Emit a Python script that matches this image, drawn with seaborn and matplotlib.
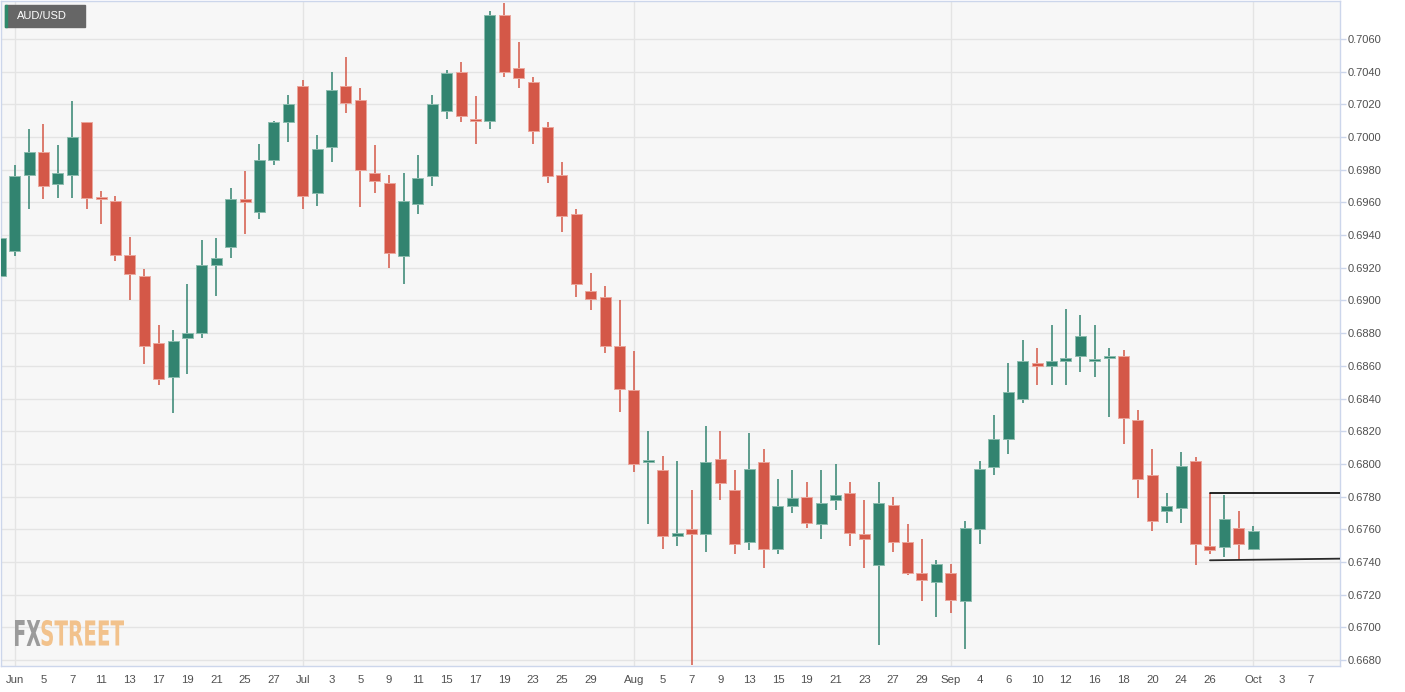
import numpy as np
import pandas as pd
import matplotlib.pyplot as plt
import seaborn as sns
from matplotlib.patches import Rectangle, PathPatch
from matplotlib.textpath import TextPath
from matplotlib.font_manager import FontProperties
from matplotlib.transforms import Affine2D

# AUD/USD daily candles, 31 May - 1 Oct 2019
opens = [0.6915, 0.6930, 0.6977, 0.6991, 0.6971, 0.6977, 0.7009, 0.6963, 0.6961, 0.6928,
         0.6915, 0.6874, 0.6853, 0.6877, 0.6880, 0.6922, 0.6933, 0.6962, 0.6954, 0.6986,
         0.7009, 0.7031, 0.6966, 0.6994, 0.7031, 0.7023, 0.6978, 0.6972, 0.6927, 0.6959,
         0.6976, 0.7016, 0.7040, 0.7011, 0.7010, 0.7075, 0.7042, 0.7034, 0.7006, 0.6977,
         0.6953, 0.6906, 0.6902, 0.6872, 0.6845, 0.6801, 0.6796, 0.6756, 0.6760, 0.6757,
         0.6803, 0.6784, 0.6752, 0.6801, 0.6748, 0.6774, 0.6780, 0.6763, 0.6778, 0.6782,
         0.6757, 0.6738, 0.6775, 0.6752, 0.6733, 0.6728, 0.6733, 0.6716, 0.6760, 0.6798,
         0.6815, 0.6840, 0.6862, 0.6860, 0.6863, 0.6866, 0.6863, 0.6865, 0.6866, 0.6827,
         0.6793, 0.6771, 0.6773, 0.6802, 0.6750, 0.6749, 0.6761, 0.6748]
highs = [0.6945, 0.6983, 0.7005, 0.7008, 0.6995, 0.7022, 0.7009, 0.6967, 0.6964, 0.6939,
         0.6919, 0.6885, 0.6882, 0.6910, 0.6937, 0.6938, 0.6969, 0.6979, 0.6996, 0.7010,
         0.7026, 0.7035, 0.7001, 0.7040, 0.7049, 0.7030, 0.6995, 0.6977, 0.6978, 0.6989,
         0.7026, 0.7041, 0.7046, 0.7025, 0.7077, 0.7082, 0.7058, 0.7037, 0.7009, 0.6985,
         0.6956, 0.6917, 0.6909, 0.6900, 0.6869, 0.6820, 0.6805, 0.6802, 0.6784, 0.6823,
         0.6820, 0.6796, 0.6819, 0.6809, 0.6791, 0.6796, 0.6789, 0.6796, 0.6800, 0.6789,
         0.6778, 0.6789, 0.6780, 0.6763, 0.6754, 0.6741, 0.6739, 0.6765, 0.6802, 0.6830,
         0.6862, 0.6876, 0.6871, 0.6885, 0.6895, 0.6891, 0.6885, 0.6871, 0.6870, 0.6833,
         0.6809, 0.6782, 0.6807, 0.6804, 0.6782, 0.6781, 0.6771, 0.6762]
lows = [0.6901, 0.6927, 0.6956, 0.6962, 0.6963, 0.6963, 0.6956, 0.6947, 0.6924, 0.6900,
        0.6861, 0.6848, 0.6831, 0.6855, 0.6877, 0.6903, 0.6926, 0.6941, 0.6950, 0.6983,
        0.6997, 0.6956, 0.6958, 0.6985, 0.7015, 0.6957, 0.6966, 0.6920, 0.6910, 0.6953,
        0.6970, 0.7011, 0.7009, 0.6996, 0.7005, 0.7037, 0.7030, 0.6996, 0.6972, 0.6942,
        0.6902, 0.6894, 0.6868, 0.6832, 0.6795, 0.6763, 0.6748, 0.6750, 0.6677, 0.6746,
        0.6778, 0.6745, 0.6747, 0.6736, 0.6745, 0.6770, 0.6761, 0.6754, 0.6772, 0.6750,
        0.6736, 0.6689, 0.6746, 0.6732, 0.6716, 0.6706, 0.6709, 0.6687, 0.6751, 0.6793,
        0.6806, 0.6837, 0.6848, 0.6848, 0.6848, 0.6856, 0.6853, 0.6829, 0.6812, 0.6779,
        0.6759, 0.6764, 0.6764, 0.6738, 0.6745, 0.6743, 0.6741, 0.6747]
closes = [0.6938, 0.6976, 0.6991, 0.6970, 0.6978, 0.7000, 0.6963, 0.6962, 0.6928, 0.6916,
          0.6872, 0.6852, 0.6875, 0.6880, 0.6922, 0.6926, 0.6962, 0.6960, 0.6986, 0.7009,
          0.7020, 0.6964, 0.6993, 0.7029, 0.7021, 0.6980, 0.6973, 0.6929, 0.6961, 0.6975,
          0.7020, 0.7039, 0.7013, 0.7010, 0.7075, 0.7040, 0.7036, 0.7004, 0.6976, 0.6952,
          0.6910, 0.6901, 0.6872, 0.6846, 0.6800, 0.6802, 0.6756, 0.6758, 0.6757, 0.6801,
          0.6788, 0.6751, 0.6797, 0.6748, 0.6774, 0.6779, 0.6764, 0.6776, 0.6781, 0.6758,
          0.6754, 0.6776, 0.6752, 0.6733, 0.6729, 0.6739, 0.6717, 0.6761, 0.6797, 0.6815,
          0.6844, 0.6863, 0.6860, 0.6863, 0.6865, 0.6878, 0.6864, 0.6866, 0.6828, 0.6791,
          0.6765, 0.6774, 0.6799, 0.6751, 0.6747, 0.6766, 0.6751, 0.6759]

axis_days = pd.bdate_range('2019-05-31', '2019-10-07')
days = axis_days[:len(opens)]

tick_dates = ['2019-06-03', '2019-06-05', '2019-06-07', '2019-06-11', '2019-06-13', '2019-06-17',
              '2019-06-19', '2019-06-21', '2019-06-25', '2019-06-27', '2019-07-01', '2019-07-03',
              '2019-07-05', '2019-07-09', '2019-07-11', '2019-07-15', '2019-07-17', '2019-07-19',
              '2019-07-23', '2019-07-25', '2019-07-29', '2019-08-01', '2019-08-05', '2019-08-07',
              '2019-08-09', '2019-08-13', '2019-08-15', '2019-08-19', '2019-08-21', '2019-08-23',
              '2019-08-27', '2019-08-29', '2019-09-02', '2019-09-04', '2019-09-06', '2019-09-10',
              '2019-09-12', '2019-09-16', '2019-09-18', '2019-09-20', '2019-09-24', '2019-09-26',
              '2019-10-01', '2019-10-03', '2019-10-07']
month_starts = ['2019-06-03', '2019-07-01', '2019-08-01', '2019-09-02', '2019-10-01']

# range lines drawn from 26 Sep
range_start = '2019-09-26'
range_top = [0.6782, 0.6782]
range_bottom = [0.6741, 0.6742]

y_ticks = np.arange(0.6680, 0.70601, 0.0020)

df = pd.DataFrame({'date': days, 'open': opens, 'high': highs, 'low': lows, 'close': closes})
df['x'] = np.arange(len(df))
df['up'] = df['close'] >= df['open']

sns.set_style('white')
plt.rcParams['font.family'] = ['Liberation Sans', 'DejaVu Sans']

RED = '#d45848'
GREEN = '#328470'
W, H = 1405, 692

fig = plt.figure(figsize=(14.05, 6.92), dpi=100)
fig.patch.set_facecolor('white')
ax = fig.add_axes([1 / W, 26 / H, 1339 / W, 665 / H])
ax.set_facecolor('#f7f7f7')

pos = {d: i for i, d in enumerate(axis_days)}

for y in y_ticks:
    ax.axhline(y, color='#e4e4e4', lw=1, zorder=0)
for d in month_starts:
    ax.axvline(pos[pd.Timestamp(d)], color='#e4e4e4', lw=1, zorder=0)

colors = np.where(df['up'], GREEN, RED)
edges = np.where(df['up'], '#8cbcae', '#eba69c')
ax.vlines(df['x'], df['low'], df['high'], colors=colors, lw=1.1, zorder=2)
body_lo = np.minimum(df['open'], df['close'])
body_h = np.maximum(np.abs(df['close'] - df['open']), 0.00012)
ax.bar(df['x'], body_h, bottom=body_lo, width=0.76, color=colors,
       edgecolor=edges, linewidth=0.7, zorder=3)

x0 = pos[pd.Timestamp(range_start)]
xr = [x0, 93.1]
sns.lineplot(x=xr, y=range_top, ax=ax, color='black', lw=1.2, zorder=4)
sns.lineplot(x=xr, y=range_bottom, ax=ax, color='#2a2a2a', lw=1.3, zorder=4)

ax.set_xlim(0.05, 93.03)
ax.set_ylim(0.66763, 0.70833)

tick_pos = [pos[pd.Timestamp(d)] for d in tick_dates]
tick_lab = []
for d in tick_dates:
    t = pd.Timestamp(d)
    tick_lab.append(t.strftime('%b') if d in month_starts else str(t.day))
ax.set_xticks(tick_pos)
ax.set_xticklabels(tick_lab)
ax.set_yticks(y_ticks)
ax.set_yticklabels([f'{v:.4f}' for v in y_ticks])
ax.yaxis.tick_right()
ax.tick_params(axis='x', length=3, width=1, color='#ccd6eb', pad=3.5,
               labelsize=8.2, labelcolor='#505050')
ax.tick_params(axis='y', length=4.3, width=1, color='#ccd6eb', pad=1.5,
               labelsize=8, labelcolor='#505050')
for s in ax.spines.values():
    s.set_color('#ccd6eb')
    s.set_linewidth(1)

# title badge
fig.add_artist(Rectangle((5, H - 27), 80, 22, transform=None, color='#666666', zorder=5))
fig.add_artist(Rectangle((5, H - 27), 2, 22, transform=None, color='#2f8a6c', zorder=6))
fig.text(17 / W, 1 - 16 / H, 'AUD/USD', color='white', fontsize=8, va='center', ha='left', zorder=7)

# watermark
fp = FontProperties(family='DejaVu Sans', weight='bold')
for txt, xa, xb, col in [('FX', 15, 40.5, '#9b9b9b'), ('STREET', 41.5, 124, '#f2c28c')]:
    tp = TextPath((0, 0), txt, size=1, prop=fp)
    ext = tp.get_extents()
    tr = (Affine2D().translate(-ext.x0, -ext.y0)
          .scale((xb - xa) / ext.width, 26 / ext.height)
          .translate(xa, H - 646))
    fig.add_artist(PathPatch(tp, transform=tr, color=col, lw=0, zorder=1))

fig.savefig('out.png', dpi=100)
